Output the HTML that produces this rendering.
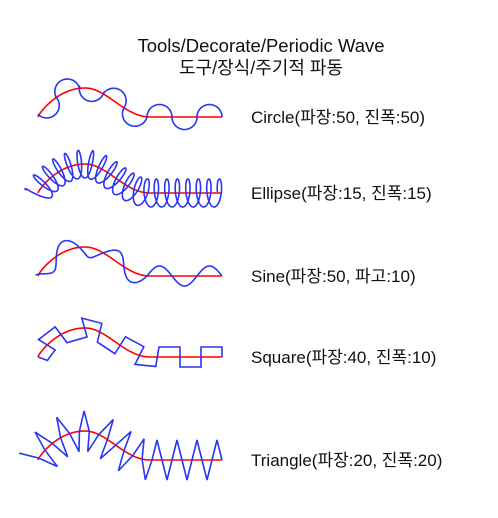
<!DOCTYPE html>
<html><head><meta charset="utf-8">
<style>
html,body{margin:0;padding:0;background:#fff;}
body{width:498px;height:513px;overflow:hidden;font-family:"Liberation Sans","Noto Sans CJK KR",sans-serif;}
</style></head>
<body>
<svg id="chart" width="498" height="513" viewBox="0 0 498 513" xmlns="http://www.w3.org/2000/svg">
<text x="261" y="52" text-anchor="middle" font-size="18.5" font-family="Liberation Sans, Noto Sans CJK KR, sans-serif" fill="#111">Tools/Decorate/Periodic Wave</text>
<text x="261" y="74" text-anchor="middle" font-size="18" font-family="Liberation Sans, Noto Sans CJK KR, sans-serif" fill="#111">도구/장식/주기적 파동</text>
</svg>
<script>
const waveTypes = ["circle","ellipse","sine","square","triangle"];
const labels = ["Circle(파장:50, 진폭:50)","Ellipse(파장:15, 진폭:15)","Sine(파장:50, 파고:10)","Square(파장:40, 진폭:10)","Triangle(파장:20, 진폭:20)"];
const wavelengths = [50, 10.5, 50, 42, 20];
const amplitudes = [12.5, 14, 10, 10, 20];
const baselines = [117, 193, 276, 357, 460];

const svg = document.getElementById('chart');
const NS = 'http://www.w3.org/2000/svg';
const X0 = 38, XP = 150, X1 = 222, H = 29;

function baseY(x, y0){
  if (x >= XP) return y0;
  const t = (x - X0) / (XP - X0);
  const s = Math.pow(t, 0.8);
  const f = s < 0.5 ? Math.sin(Math.PI * s) : (1 + Math.cos(Math.PI * (2 * s - 1))) / 2;
  return y0 - H * f;
}
function basePoints(y0){
  const pts = [];
  for (let x = X0; x <= X1; x += 0.25) pts.push([x, baseY(x, y0)]);
  const out = [{x: pts[0][0], y: pts[0][1], s: 0}];
  for (let i = 1; i < pts.length; i++){
    const dx = pts[i][0] - pts[i-1][0], dy = pts[i][1] - pts[i-1][1];
    out.push({x: pts[i][0], y: pts[i][1], s: out[i-1].s + Math.hypot(dx, dy)});
  }
  return out;
}
function at(pts, s){
  let i = 1;
  while (i < pts.length - 1 && pts[i].s < s) i++;
  const a = pts[i-1], b = pts[i];
  const L = b.s - a.s || 1;
  const u = Math.max(0, Math.min(1, (s - a.s) / L));
  const tx = (b.x - a.x) / L, ty = (b.y - a.y) / L;
  return {x: a.x + (b.x - a.x) * u, y: a.y + (b.y - a.y) * u, tx: tx, ty: ty, nx: ty, ny: -tx};
}
function wavePath(type, lam, amp, pts){
  const total = pts[pts.length - 1].s;
  const d = [];
  const push = (x, y) => d.push((d.length ? 'L' : 'M') + x.toFixed(2) + ' ' + y.toFixed(2));
  if (type === 'circle'){
    const half = lam / 2, r = half / 2;
    const n = Math.ceil(total / half);
    for (let k = n - 1; k >= 0; k--){
      const sc = total - k * half - r;
      if (sc - r < -0.5 * r) continue;
      const c = at(pts, Math.max(0, sc));
      const side = k % 2 === 0 ? 1 : -1;
      for (let j = 0; j <= 30; j++){
        const th = Math.PI - Math.PI * j / 30;
        push(c.x + r * Math.cos(th) * c.tx + side * r * Math.sin(th) * c.nx,
             c.y + r * Math.cos(th) * c.ty + side * r * Math.sin(th) * c.ny);
      }
    }
  } else if (type === 'ellipse'){
    const rx = 4.5;
    for (let s = 0; s <= total; s += 0.2){
      const p = at(pts, s);
      const th = 2 * Math.PI * (total - s) / lam;
      push(p.x - rx * Math.cos(th) * p.tx + amp * Math.sin(th) * p.nx,
           p.y - rx * Math.cos(th) * p.ty + amp * Math.sin(th) * p.ny);
    }
  } else if (type === 'sine'){
    for (let s = 0; s <= total; s += 0.5){
      const p = at(pts, s);
      const v = amp * Math.sin(2 * Math.PI * (total - s) / lam);
      push(p.x + v * p.nx, p.y + v * p.ny);
    }
  } else if (type === 'square'){
    const half = lam / 2;
    const n = Math.ceil(total / half);
    const st = at(pts, 0);
    push(st.x, st.y);
    for (let k = n - 1; k >= 0; k--){
      const v = (k % 2 === 0 ? 1 : -1) * amp;
      const sa = Math.max(0, total - (k + 1) * half), sb = total - k * half;
      const a = at(pts, sa), b = at(pts, sb);
      push(a.x + v * a.nx, a.y + v * a.ny);
      push(b.x + v * a.nx, b.y + v * a.ny);
    }
    const e = at(pts, total);
    push(e.x, e.y);
  } else if (type === 'triangle'){
    const q = lam / 4;
    const n = Math.ceil(total / q);
    for (let k = n; k >= 0; k--){
      const sr = Math.min(total, k * q);
      const p = at(pts, total - sr);
      const m = k % 4;
      const v = (m === 1 ? 1 : m === 3 ? -1 : 0) * amp;
      push(p.x + v * p.nx, p.y + v * p.ny);
    }
  }
  return d.join(' ');
}

for (let i = 0; i < waveTypes.length; i++){
  const pts = basePoints(baselines[i]);
  const g = document.createElementNS(NS, 'g');
  
  
  const base = document.createElementNS(NS, 'path');
  
  
  base.setAttribute('d', pts.map((p, j) => (j ? 'L' : 'M') + p.x.toFixed(2) + ' ' + p.y.toFixed(2)).join(' '));
  base.setAttribute('fill', 'none');
  base.setAttribute('stroke', '#ff0000');
  base.setAttribute('stroke-width', '1.6');
  g.appendChild(base);
  const w = document.createElementNS(NS, 'path');
  
  
  w.setAttribute('d', wavePath(waveTypes[i], wavelengths[i], amplitudes[i], pts));
  w.setAttribute('fill', 'none');
  w.setAttribute('stroke', '#2a36f0');
  w.setAttribute('stroke-width', '1.6');
  g.appendChild(w);
  const t = document.createElementNS(NS, 'text');
  
  
  t.setAttribute('x', 251);
  t.setAttribute('y', baselines[i] + 6);
  t.setAttribute('font-size', '17');
  t.setAttribute('font-family', 'Liberation Sans, Noto Sans CJK KR, sans-serif');
  t.setAttribute('fill', '#111');
  t.textContent = labels[i];
  g.appendChild(t);
  svg.appendChild(g);
}
</script>
</body></html>
